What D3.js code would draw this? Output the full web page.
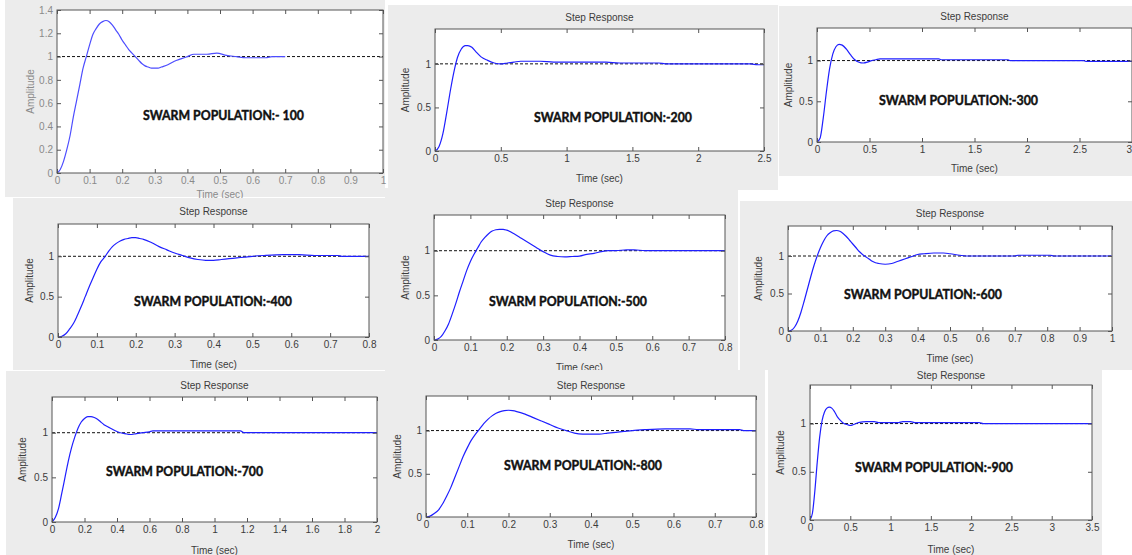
<!DOCTYPE html>
<html>
<head>
<meta charset="utf-8">
<script src="https://cdn.jsdelivr.net/npm/d3@7"></script>
<style>
  html, body { margin: 0; padding: 0; background: #fff; }
  svg { display: block; }
  .tick text { font-family: "Liberation Sans", Arial, sans-serif; font-size: 10px; }
</style>
</head>
<body>
<svg id="chart" width="1132" height="555"></svg>
<script>
// step response curves, [time, amplitude]
const curve100 = [[0,0],[0.01,0.03],[0.02,0.1],[0.03,0.2],[0.04,0.32],[0.05,0.48],[0.06,0.62],[0.07,0.76],[0.08,0.9],[0.09,1.0],[0.1,1.1],[0.11,1.19],[0.12,1.24],[0.13,1.28],[0.14,1.3],[0.15,1.31],[0.16,1.3],[0.17,1.27],[0.18,1.23],[0.19,1.19],[0.2,1.14],[0.21,1.1],[0.22,1.06],[0.23,1.03],[0.24,1.0],[0.25,0.97],[0.26,0.94],[0.27,0.92],[0.28,0.91],[0.29,0.9],[0.3,0.9],[0.31,0.9],[0.32,0.91],[0.34,0.93],[0.36,0.96],[0.38,0.98],[0.4,1.0],[0.42,1.02],[0.43,1.02],[0.46,1.02],[0.49,1.03],[0.52,1.01],[0.55,1.0],[0.58,0.99],[0.64,0.99],[0.66,1.0],[0.7,1.0]];
const curve200 = [[0,0],[0.03,0.05],[0.06,0.2],[0.09,0.45],[0.12,0.72],[0.15,0.95],[0.17,1.07],[0.2,1.17],[0.23,1.21],[0.25,1.21],[0.28,1.19],[0.31,1.14],[0.35,1.08],[0.4,1.04],[0.45,1.01],[0.5,1.0],[0.55,1.01],[0.6,1.02],[0.65,1.03],[0.7,1.03],[0.8,1.03],[0.9,1.02],[1.0,1.02],[1.3,1.02],[1.4,1.01],[1.7,1.01],[1.75,1.0],[2.4,1.0],[2.45,0.99],[2.5,0.99]];
const curve300 = [[0,0],[0.03,0.05],[0.06,0.3],[0.09,0.62],[0.12,0.9],[0.15,1.08],[0.18,1.17],[0.21,1.2],[0.24,1.19],[0.28,1.14],[0.32,1.07],[0.36,1.01],[0.4,0.98],[0.44,0.97],[0.48,0.98],[0.52,1.0],[0.56,1.01],[0.6,1.02],[1.16,1.02],[1.18,1.01],[1.82,1.01],[1.84,1.0],[2.54,1.0],[2.56,0.99],[3,0.99]];
const curve400 = [[0,0],[0.01,0.01],[0.02,0.04],[0.03,0.1],[0.04,0.17],[0.05,0.27],[0.06,0.38],[0.07,0.5],[0.08,0.62],[0.09,0.73],[0.1,0.84],[0.11,0.93],[0.12,0.99],[0.13,1.06],[0.14,1.12],[0.15,1.16],[0.16,1.19],[0.17,1.21],[0.18,1.22],[0.19,1.23],[0.2,1.23],[0.21,1.22],[0.22,1.21],[0.24,1.17],[0.26,1.12],[0.28,1.08],[0.3,1.04],[0.32,1.01],[0.34,0.98],[0.36,0.96],[0.38,0.95],[0.4,0.95],[0.42,0.96],[0.44,0.97],[0.46,0.98],[0.48,0.99],[0.5,1.0],[0.53,1.01],[0.58,1.02],[0.62,1.02],[0.66,1.01],[0.72,1.01],[0.73,1.0],[0.8,1.0]];
const curve500 = [[0,0],[0.01,0.01],[0.02,0.04],[0.03,0.1],[0.04,0.18],[0.05,0.29],[0.06,0.41],[0.07,0.54],[0.08,0.66],[0.09,0.78],[0.1,0.88],[0.11,0.96],[0.12,1.03],[0.13,1.1],[0.14,1.15],[0.15,1.19],[0.16,1.22],[0.17,1.235],[0.18,1.24],[0.19,1.24],[0.2,1.23],[0.22,1.19],[0.24,1.14],[0.26,1.09],[0.28,1.04],[0.3,0.99],[0.32,0.95],[0.34,0.935],[0.36,0.93],[0.38,0.935],[0.4,0.94],[0.42,0.96],[0.44,0.97],[0.46,0.99],[0.48,1.0],[0.5,1.0],[0.53,1.01],[0.55,1.01],[0.58,1.0],[0.62,1.0],[0.8,1.0]];
const curve600 = [[0,0],[0.01,0.01],[0.02,0.05],[0.03,0.13],[0.04,0.25],[0.05,0.4],[0.06,0.56],[0.07,0.72],[0.08,0.87],[0.09,1.0],[0.1,1.11],[0.11,1.2],[0.12,1.27],[0.13,1.31],[0.14,1.335],[0.15,1.34],[0.16,1.33],[0.17,1.3],[0.18,1.26],[0.19,1.21],[0.2,1.16],[0.21,1.11],[0.22,1.06],[0.23,1.02],[0.24,0.99],[0.25,0.96],[0.26,0.93],[0.27,0.91],[0.28,0.9],[0.3,0.89],[0.32,0.9],[0.34,0.93],[0.36,0.96],[0.38,0.99],[0.4,1.02],[0.42,1.03],[0.45,1.04],[0.48,1.04],[0.5,1.03],[0.53,1.01],[0.55,1.0],[0.7,1.0],[0.71,1.01],[0.81,1.01],[0.82,1.0],[1,1.0]];
const curve700 = [[0,0],[0.02,0.05],[0.04,0.15],[0.06,0.32],[0.08,0.5],[0.1,0.68],[0.12,0.83],[0.14,0.95],[0.16,1.05],[0.18,1.12],[0.2,1.16],[0.22,1.18],[0.24,1.18],[0.26,1.17],[0.28,1.15],[0.3,1.12],[0.32,1.09],[0.35,1.06],[0.38,1.03],[0.42,1.0],[0.45,0.99],[0.48,0.98],[0.52,0.99],[0.56,1.0],[0.6,1.01],[0.62,1.02],[1.16,1.02],[1.18,1.0],[2,1.0]];
const curve800 = [[0,0],[0.01,0.01],[0.02,0.04],[0.03,0.08],[0.04,0.15],[0.05,0.24],[0.06,0.34],[0.07,0.46],[0.08,0.58],[0.09,0.7],[0.1,0.8],[0.11,0.89],[0.12,0.96],[0.13,1.02],[0.14,1.08],[0.15,1.13],[0.16,1.17],[0.17,1.2],[0.18,1.22],[0.19,1.23],[0.2,1.235],[0.21,1.23],[0.22,1.22],[0.24,1.19],[0.26,1.15],[0.28,1.11],[0.3,1.07],[0.32,1.03],[0.34,1.0],[0.36,0.97],[0.38,0.96],[0.4,0.96],[0.42,0.96],[0.44,0.97],[0.46,0.98],[0.48,0.99],[0.5,1.0],[0.53,1.01],[0.58,1.02],[0.64,1.02],[0.66,1.01],[0.76,1.01],[0.77,1.0],[0.8,1.0]];
const curve900 = [[0,0],[0.03,0.07],[0.06,0.3],[0.09,0.6],[0.12,0.86],[0.15,1.03],[0.18,1.12],[0.21,1.16],[0.24,1.17],[0.27,1.16],[0.3,1.13],[0.34,1.07],[0.38,1.03],[0.42,1.0],[0.46,0.99],[0.5,0.98],[0.54,0.99],[0.6,1.01],[0.7,1.02],[0.8,1.02],[0.85,1.01],[1.1,1.01],[1.15,1.02],[1.25,1.02],[1.3,1.01],[2.1,1.01],[2.15,1.0],[2.75,1.0],[3.5,1.0]];

// tick labels
const ticksTenth = [0,0.1,0.2,0.3,0.4,0.5,0.6,0.7,0.8,0.9,1];
const ticksEighth = [0,0.1,0.2,0.3,0.4,0.5,0.6,0.7,0.8];
const ticksHalf25 = [0,0.5,1,1.5,2,2.5];
const ticksHalf3 = [0,0.5,1,1.5,2,2.5,3];
const ticksHalf35 = [0,0.5,1,1.5,2,2.5,3,3.5];
const ticksFifth2 = [0,0.2,0.4,0.6,0.8,1,1.2,1.4,1.6,1.8,2];
const ampTicksFine = [0,0.2,0.4,0.6,0.8,1,1.2,1.4];
const ampTicks = [0,0.5,1];
const labels = ["SWARM POPULATION:- 100","SWARM POPULATION:-200","SWARM POPULATION:-300",
  "SWARM POPULATION:-400","SWARM POPULATION:-500","SWARM POPULATION:-600",
  "SWARM POPULATION:-700","SWARM POPULATION:-800","SWARM POPULATION:-900"];

const svg = d3.select("#chart");
const sans = '"Liberation Sans", Arial, sans-serif';

// layout of each screenshot panel: bg box, plot box, label spots
let panels = [
  {bg:[5,0,385,197], box:[57,10,383,173], xMax:1, xt:ticksTenth, yt:ampTicksFine, curve:curve100, titleY:null, ylX:30, xlY:194, tx:[143,120,161], faded:true},
  {bg:[388,5,778,190], box:[435,29,764,151], xMax:2.5, xt:ticksHalf25, yt:ampTicks, curve:curve200, titleY:17, ylX:405, xlY:178, tx:[534,122,158]},
  {bg:[779,6,1132,176], box:[817,28,1132,142], xMax:3, xt:ticksHalf3, yt:ampTicks, curve:curve300, titleY:16, ylX:788, xlY:168, tx:[879,105,159], edge:true},
  {bg:[13,198,385,370], box:[58,224,369,337], xMax:0.8, xt:ticksEighth, yt:ampTicks, curve:curve400, titleY:211, ylX:29, xlY:364, tx:[134,306,158]},
  {bg:[385,188,738,372], box:[434,215,725,340], xMax:0.8, xt:ticksEighth, yt:ampTicks, curve:curve500, titleY:203, ylX:405, xlY:367, tx:[489,306,158]},
  {bg:[740,201,1132,370], box:[788,226,1112,331], xMax:1, xt:ticksTenth, yt:ampTicks, curve:curve600, titleY:213, ylX:758, xlY:358, tx:[844,299,158]},
  {bg:[6,371,390,555], box:[52,397,377,522], xMax:2, xt:ticksFifth2, yt:ampTicks, curve:curve700, titleY:385, ylX:22, xlY:550, tx:[106,476,157]},
  {bg:[388,370,765,555], box:[426,396,756,517], xMax:0.8, xt:ticksEighth, yt:ampTicks, curve:curve800, titleY:385, ylX:397, xlY:544, tx:[504,470,158]},
  {bg:[768,370,1102,555], box:[810,385,1092,520], xMax:3.5, xt:ticksHalf35, yt:ampTicks, curve:curve900, titleY:375, ylX:780, xlY:549, tx:[855,472,158]}
];

let drawPanel = function(p, i) {
  let [bx0, by0, bx1, by1] = p.bg;
  let [x0, y0, x1, y1] = p.box;
  let ink = p.faded ? "#8a8a8a" : "#3c3c3c";

  svg.append("rect")
    .attr("x", bx0).attr("y", by0)
    .attr("width", bx1 - bx0).attr("height", by1 - by0)
    .attr("fill", "#ececec");

  let x = d3.scaleLinear().domain([0, p.xMax]).range([x0, x1]);
  let y = d3.scaleLinear().domain([0, 1.4]).range([y1, y0]);

  let g = svg.append("g");

  g.append("rect")
    .attr("x", x0).attr("y", y0)
    .attr("width", x1 - x0).attr("height", y1 - y0)
    .attr("fill", "#fff");

  // steady state line
  g.append("line")
    .attr("x1", x(0)).attr("x2", x(p.xMax))
    .attr("y1", y(1)).attr("y2", y(1))
    .attr("stroke", "#111").attr("stroke-width", 1)
    .attr("stroke-dasharray", "3,2");

  let line = d3.line()
    .x(d => x(d[0]))
    .y(d => y(d[1]))
    .curve(d3.curveMonotoneX);

  g.append("path")
    .datum(p.curve)
    .attr("d", line)
    .attr("fill", "none")
    .attr("stroke", p.faded ? "#4d4dff" : "#1f1fff")
    .attr("stroke-width", 1.2);

  // matlab style inward ticks on all four sides
  let fmt = d => String(d);
  let axes = [
    [d3.axisBottom(x).tickValues(p.xt).tickFormat(fmt), `translate(0,${y1})`],
    [d3.axisTop(x).tickValues(p.xt).tickFormat(""), `translate(0,${y0})`],
    [d3.axisLeft(y).tickValues(p.yt).tickFormat(fmt), `translate(${x0},0)`],
    [d3.axisRight(y).tickValues(p.yt).tickFormat(""), `translate(${x1},0)`]
  ];
  axes.forEach((a, k) => {
    let ax = g.append("g")
      .attr("transform", a[1])
      .call(a[0].tickSizeInner(-4).tickSizeOuter(0).tickPadding(4));
    ax.select(".domain").remove();
    ax.selectAll(".tick line").attr("stroke", "#555");
    ax.selectAll(".tick text").attr("fill", ink);
    // last label sits right on the window edge, keep it inside
    if (k === 0 && p.edge) {
      ax.selectAll(".tick text").filter(d => d === p.xMax)
        .attr("text-anchor", "end").attr("x", -0.5);
    }
  });

  g.append("rect")
    .attr("x", x0).attr("y", y0)
    .attr("width", x1 - x0).attr("height", y1 - y0)
    .attr("fill", "none").attr("stroke", "#555").attr("stroke-width", 1);

  let cx = (x0 + x1) / 2;
  if (p.titleY !== null) {
    g.append("text")
      .attr("x", cx).attr("y", p.titleY).attr("dy", "0.35em")
      .attr("text-anchor", "middle")
      .style("font", `10px ${sans}`).attr("fill", ink)
      .text("Step Response");
  }
  g.append("text")
    .attr("x", cx).attr("y", p.xlY).attr("dy", "0.35em")
    .attr("text-anchor", "middle")
    .style("font", `10px ${sans}`).attr("fill", ink)
    .text("Time (sec)");
  g.append("text")
    .attr("transform", `translate(${p.ylX},${(y0 + y1) / 2}) rotate(-90)`)
    .attr("dy", "0.35em")
    .attr("text-anchor", "middle")
    .style("font", `10px ${sans}`).attr("fill", ink)
    .text("Amplitude");

  g.append("text")
    .attr("x", p.tx[0]).attr("y", p.tx[1])
    .attr("textLength", p.tx[2]).attr("lengthAdjust", "spacingAndGlyphs")
    .style("font", '700 14px Lato, "Open Sans", sans-serif')
    .attr("fill", "#111").attr("stroke", "#111").attr("stroke-width", 0.45)
    .text(labels[i]);
};

panels.forEach(drawPanel);
</script>
</body>
</html>
